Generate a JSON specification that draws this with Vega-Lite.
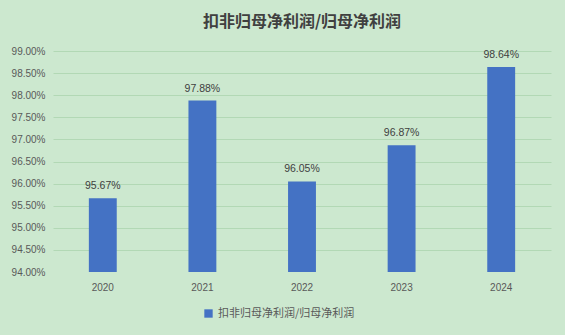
{
  "$schema": "https://vega.github.io/schema/vega-lite/v6.json",
  "width": 498,
  "height": 221,
  "autosize": {"type": "none"},
  "padding": {"left": 53, "top": 51, "right": 14, "bottom": 63},
  "background": "#cce8cf",
  "title": {
    "text": "扣非归母净利润/归母净利润",
    "font": "Noto Sans CJK SC",
    "fontSize": 16,
    "fontWeight": "bold",
    "color": "#404040",
    "anchor": "middle",
    "offset": 16
  },
  "data": {
    "values": [
      {"year": "2020", "ratio": 0.9567, "series": "扣非归母净利润/归母净利润"},
      {"year": "2021", "ratio": 0.9788, "series": "扣非归母净利润/归母净利润"},
      {"year": "2022", "ratio": 0.9605, "series": "扣非归母净利润/归母净利润"},
      {"year": "2023", "ratio": 0.9687, "series": "扣非归母净利润/归母净利润"},
      {"year": "2024", "ratio": 0.9864, "series": "扣非归母净利润/归母净利润"}
    ]
  },
  "config": {
    "view": {"stroke": null},
    "font": "Liberation Sans"
  },
  "encoding": {
    "x": {
      "field": "year",
      "type": "nominal",
      "title": null,
      "scale": {"paddingInner": 0.72, "paddingOuter": 0.36},
      "axis": {"labelAngle": 0, "domain": false, "ticks": false, "labelColor": "#595959", "labelFontSize": 10, "labelPadding": 10, "labelFont": "Liberation Sans"}
    },
    "y": {
      "field": "ratio",
      "type": "quantitative",
      "title": null,
      "scale": {"domain": [0.94, 0.99], "nice": false, "zero": false},
      "axis": {
        "format": ".2%",
        "values": [0.94, 0.945, 0.95, 0.955, 0.96, 0.965, 0.97, 0.975, 0.98, 0.985, 0.99],
        "labelOverlap": false,
        "labelFlush": false,
        "domain": false,
        "ticks": false,
        "labelColor": "#595959",
        "labelFontSize": 10,
        "labelPadding": 8,
        "gridColor": "#b2d8b5",
        "gridWidth": 1,
        "gridOpacity": {"condition": {"test": "datum.value <= 0.9401", "value": 0}, "value": 1},
        "labelFont": "Liberation Sans"
      }
    }
  },
  "layer": [
    {
      "mark": {"type": "bar"},
      "encoding": {
        "y2": {"datum": 0.94},
        "color": {
          "field": "series",
          "type": "nominal",
          "scale": {"range": ["#4472c4"]},
          "legend": {
            "title": null,
            "orient": "none",
            "legendX": 150,
            "legendY": 257,
            "symbolType": "square",
            "symbolSize": 70,
            "labelFont": "Noto Sans CJK SC",
            "labelFontSize": 11,
            "labelColor": "#595959"
          }
        }
      }
    },
    {
      "mark": {"type": "text", "dy": -12, "fontSize": 10.5, "color": "#404040", "font": "Liberation Sans"},
      "encoding": {
        "text": {"field": "ratio", "type": "quantitative", "format": ".2%"}
      }
    }
  ]
}
